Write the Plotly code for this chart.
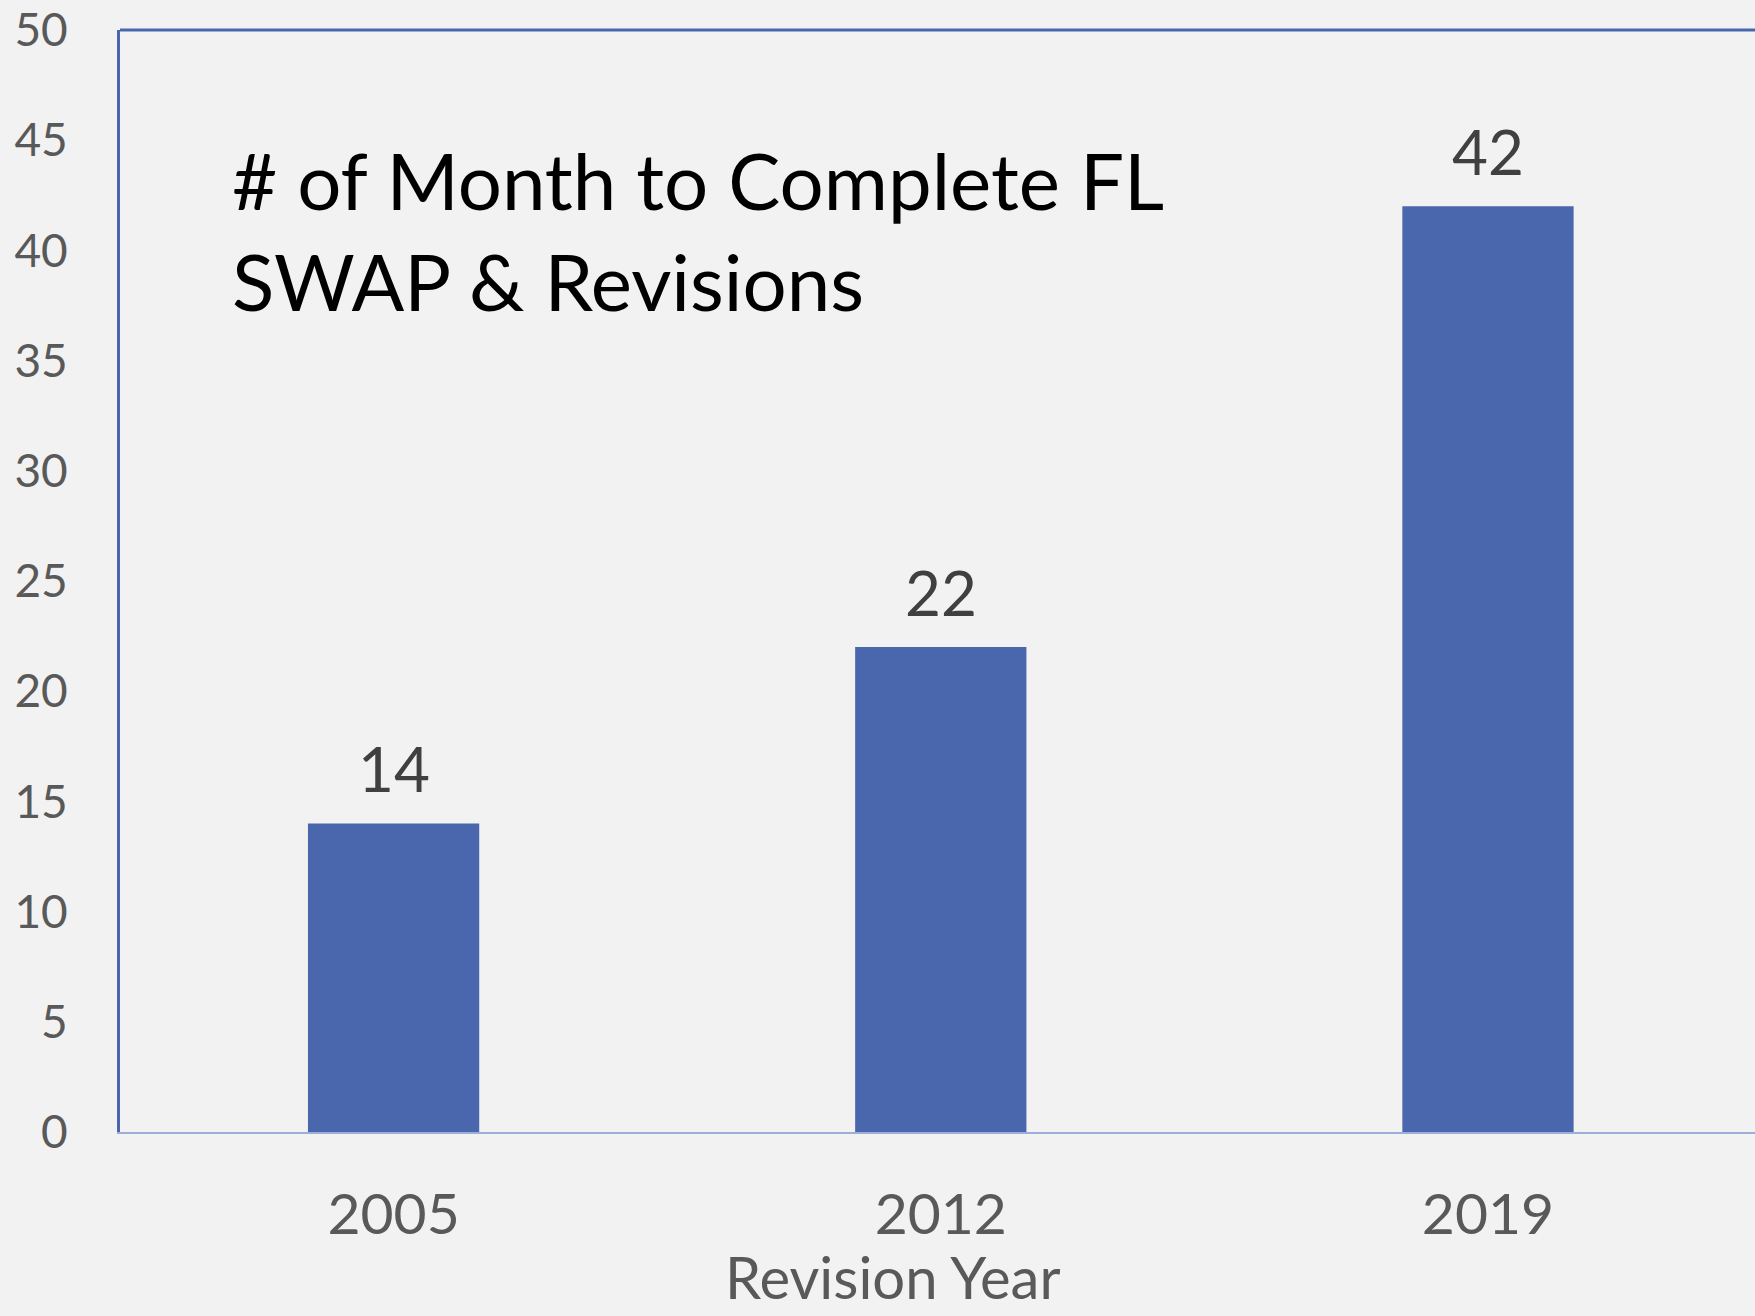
import plotly.graph_objects as go

categories = ["2005", "2012", "2019"]
values = [14, 22, 42]
y_ticks = [0, 5, 10, 15, 20, 25, 30, 35, 40, 45, 50]
title_lines = ["# of Month to Complete FL", "SWAP & Revisions"]
x_title = "Revision Year"

BAR = "#4A66AC"
BG = "#F2F2F2"
FONT = "Lato"

fig = go.Figure()
fig.add_trace(go.Bar(x=categories, y=values, marker=dict(color=BAR, line=dict(width=0)),
                     width=0.313, showlegend=False))

for i, v in enumerate(values):
    fig.add_annotation(x=i, y=v, text=str(v), showarrow=False, yanchor="bottom", yshift=16,
                       font=dict(family=FONT, size=62, color="#404040"))

fig.add_annotation(xref="paper", yref="paper", x=0.067, y=0.908, xanchor="left", yanchor="top",
                   text="<br>".join(title_lines), align="left", showarrow=False,
                   font=dict(family=FONT, size=78, color="#000000"))

fig.add_annotation(xref="paper", yref="paper", x=0.473, y=-0.098, xanchor="center", yanchor="top",
                   text=x_title, showarrow=False, font=dict(family=FONT, size=58, color="#595959"))

fig.add_shape(type="line", xref="paper", yref="paper", x0=0, x1=1, y0=1, y1=1,
              line=dict(color=BAR, width=3))

fig.update_layout(
    width=1755, height=1316,
    margin=dict(l=120, r=0, t=30, b=184),
    paper_bgcolor=BG, plot_bgcolor=BG,
    xaxis=dict(type="category", range=[-0.5, 2.488], showgrid=False, showline=True,
               linecolor="#9DAED8", linewidth=2, ticks="outside", ticklen=0,
               tickcolor=BG, ticklabelstandoff=32,
               tickfont=dict(family=FONT, size=57, color="#595959")),
    yaxis=dict(range=[0, 50], tickvals=y_ticks, showgrid=False, zeroline=False,
               showline=True, linecolor=BAR, linewidth=3, ticks="outside", ticklen=0,
               ticklabelstandoff=40,
               tickfont=dict(family=FONT, size=46, color="#595959")),
)

fig.write_html("out.html", config={"displayModeBar": False},
               post_script="document.body.style.margin='0';document.body.style.background='#F2F2F2';document.documentElement.style.overflow='hidden';")
